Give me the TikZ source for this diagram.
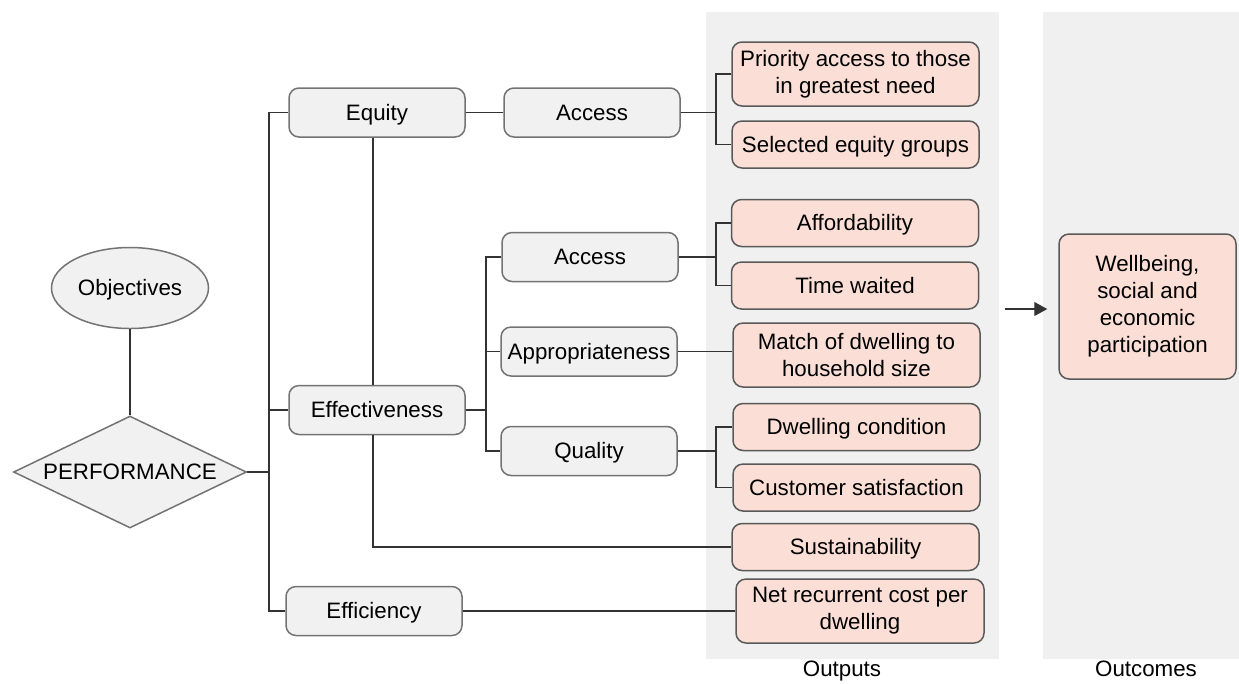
\documentclass[tikz,border=0pt]{standalone}
\usepackage{fontspec}
\setmainfont{Liberation Sans}
\usetikzlibrary{shapes.geometric,arrows.meta}
\definecolor{boxgrey}{HTML}{F1F1F1}
\definecolor{boxpink}{HTML}{FBDFD6}
\definecolor{panelgrey}{HTML}{F0F0F0}
\newcommand{\boxfont}{\fontsize{12.7}{15.3}\selectfont}
\tikzset{
    oneline/.style={text height=11.5pt, text depth=2.7pt},
    gbox/.style={draw=black!55, line width=0.3mm, fill=boxgrey, rounded corners=2mm,
        minimum width=35.2mm, minimum height=9.8mm, inner sep=0pt, font=\boxfont, oneline},
    pbox/.style={draw=black!65, line width=0.3mm, fill=boxpink, rounded corners=2mm,
        minimum width=49.4mm, minimum height=9.4mm, inner sep=0pt, align=center, font=\boxfont},
    link/.style={draw=black!80, line width=0.22mm},
    panel/.style={fill=panelgrey}
}

\begin{document}
\begin{tikzpicture}[x=0.2mm, y=-0.2mm]
        \useasboundingbox (0,0) rectangle (1239,683);
        %background panels
        \fill[panel] (706,12) rectangle (999,659);
        \fill[panel] (1043,12) rectangle (1239,659);
        \node[font=\boxfont, oneline](outputs) at (842,668.5){Outputs};
        \node[font=\boxfont, oneline](outcomes) at (1146,668.5){Outcomes};

        %left side
        \node[ellipse, draw=black!55, line width=0.3mm, fill=boxgrey, minimum width=31.4mm,
            minimum height=16.2mm, inner sep=0pt, font=\boxfont, oneline](obj) at (130,288){Objectives};
        \node[diamond, aspect=2.08, draw=black!55, line width=0.3mm, fill=boxgrey, minimum width=46.6mm,
            minimum height=22.4mm, inner sep=0pt, font=\boxfont, oneline](perf) at (130,472){PERFORMANCE};

        %objectives
        \node[gbox](equity) at (377,112.5){Equity};
        \node[gbox](effect) at (377,410){Effectiveness};
        \node[gbox](effic) at (374,611){Efficiency};

        %indicator groups
        \node[gbox](acceq) at (592,112.5){Access};
        \node[gbox](acceff) at (590,257){Access};
        \node[gbox](approp) at (589,351.5){Appropriateness};
        \node[gbox](quality) at (589,451){Quality};

        %outputs
        \node[pbox, minimum height=12.8mm](priority) at (855.5,74){Priority access to those\\in greatest need};
        \node[pbox, oneline](selected) at (855.5,144.5){Selected equity groups};
        \node[pbox, oneline](afford) at (855,223){Affordability};
        \node[pbox, oneline](timewait) at (855,285.5){Time waited};
        \node[pbox, minimum height=12.8mm](match) at (856.5,355){Match of dwelling to\\household size};
        \node[pbox, oneline](dwellcond) at (856.5,427){Dwelling condition};
        \node[pbox, oneline](custsat) at (856.5,487.5){Customer satisfaction};
        \node[pbox, oneline](sustain) at (855.5,547){Sustainability};
        \node[pbox, minimum width=49.6mm, minimum height=12.8mm](netcost) at (860,611){Net recurrent cost per\\dwelling};

        %outcomes
        \node[pbox, minimum width=35.4mm, minimum height=29mm](wellbeing) at (1147.5,306.5){Wellbeing,\\social and\\economic\\participation};

        %branch points
        \coordinate(trunk) at (269,472);
        \coordinate(effbr) at (486,410);
        \coordinate(eqbr) at (716,112.5);
        \coordinate(accbr) at (716,257);
        \coordinate(qualbr) at (716,451);
        \coordinate(arrstart) at (1005,309);

        %connectors
        \draw[link] (obj) -- (perf);
        \draw[link] (perf.east) -- (trunk);
        \draw[link] (equity.west) -| (trunk) |- (effic.west);
        \draw[link] (effect.west) -- (effect.west -| trunk);
        \draw[link] (equity) -- (acceq);
        \draw[link] ([xshift=-0.8mm]equity.south) -- ([xshift=-0.8mm]effect.north);
        \draw[link] ([xshift=-0.8mm]effect.south) |- (sustain.west);
        \draw[link] (effect.east) -- (effbr);
        \draw[link] (acceff.west) -| (effbr) |- (quality.west);
        \draw[link] (approp.west) -- (approp.west -| effbr);
        \draw[link] (acceq.east) -- (eqbr);
        \draw[link] (priority.west) -| (eqbr) |- (selected.west);
        \draw[link] (acceff.east) -- (accbr);
        \draw[link] (afford.west) -| (accbr) |- (timewait.west);
        \draw[link] (approp.east) -- (approp.east -| match.west);
        \draw[link] (quality.east) -- (qualbr);
        \draw[link] (dwellcond.west) -| (qualbr) |- (custsat.west);
        \draw[link] (effic) -- (netcost);
        \draw[link, -{Triangle[length=2.6mm, width=2.8mm]}, shorten >=2.2mm] (arrstart) -- (wellbeing.west |- arrstart);
\end{tikzpicture}
\end{document}
